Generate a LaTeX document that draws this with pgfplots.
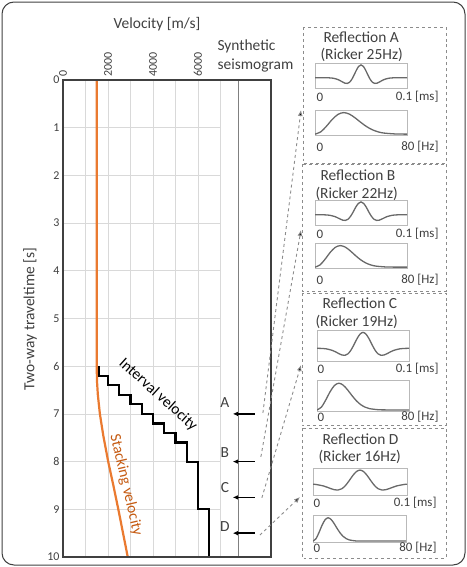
\documentclass[border=0pt]{standalone}
\usepackage{pgfplots}
\pgfplotsset{compat=1.18}
\usepackage{fontspec}
\setmainfont{Carlito}
\usetikzlibrary{arrows.meta}
\definecolor{txt}{RGB}{64,64,64}
\definecolor{orng}{RGB}{234,122,48}
\definecolor{brn}{RGB}{197,90,17}
\definecolor{gridc}{RGB}{217,217,217}
\definecolor{boxc}{RGB}{185,185,185}
\definecolor{wavec}{RGB}{105,105,105}
\definecolor{dashc}{RGB}{140,140,140}
\newcommand\fL{\fontsize{15.5}{18}\selectfont}
\newcommand\fM{\fontsize{13}{15}\selectfont}
\newcommand\fS{\fontsize{12}{14}\selectfont}
\pgfplotsset{
 wbox/.style={scale only axis, width=92bp, height=25bp, ticks=none,
   axis line style={draw=boxc, line width=0.9bp}, anchor=north west},
 wt/.style={wbox, xmin=0, xmax=0.1, ymin=-0.8, ymax=1.15},
 wf/.style={wbox, xmin=0, xmax=80, ymin=-0.04, ymax=1.12},
 wl/.style={wavec, line width=1.3bp, smooth, no markers},
}
\begin{document}
\begin{tikzpicture}
\path[use as bounding box] (0,0) rectangle (467bp,-567bp);
\draw[txt, line width=1bp, rounded corners=12bp] (2bp,-2bp) rectangle (465bp,-565bp);

\begin{axis}[at={(63bp,-557bp)}, anchor=south west, scale only axis,
  width=208bp, height=477bp,
  xmin=0, xmax=9250, ymin=0, ymax=10, y dir=reverse,
  xtick={0,2000,4000,6000}, ytick={0,1,...,10},
  major tick length=0pt,
  xticklabel pos=upper,
  /pgf/number format/assume math mode=true,
  /pgf/number format/1000 sep={},
  scaled x ticks=false,
  xticklabel style={rotate=90, anchor=west, font=\fS, text=txt},
  yticklabel style={font=\fS, text=txt},
  axis line style={draw=txt, line width=1.6bp},
  clip=false, axis on top]
\pgfplotsinvokeforeach{1000,2000,3000,4000,5000,6000,7000}{\draw[gridc, line width=0.8bp] (axis cs:#1,0) -- (axis cs:#1,10);}
\pgfplotsinvokeforeach{1,2,3,4,5,6,7,8,9}{\draw[gridc, line width=0.8bp] (axis cs:0,#1) -- (axis cs:7000,#1);}
\draw[gray, line width=1.3bp] (axis cs:7800,0) -- (axis cs:7800,10);
% interval velocity
\addplot[black, line width=2.2bp, no markers] coordinates {
 (1600,6.0)(1600,6.2)(2000,6.2)(2000,6.4)(2500,6.4)(2500,6.6)(3000,6.6)(3000,6.8)
 (3500,6.8)(3500,7.0)(4000,7.0)(4000,7.2)(4500,7.2)(4500,7.4)(5000,7.4)(5000,7.6)
 (5500,7.6)(5500,8.0)(6000,8.0)(6000,9.0)(6500,9.0)(6500,10)};
% stacking velocity
\addplot[orng, line width=2.2bp, no markers] coordinates {
 (1500,0)(1500,6.0)(1510,6.3)(1550,6.6)(1640,7.0)(1790,7.45)(2010,8.0)(2240,8.5)(2460,9.0)(2670,9.5)(2880,10)};
\node[font=\fL, rotate=-42] at (axis cs:4230,6.6) {Interval velocity};
\node[font=\fL, rotate=-77, text=brn] at (axis cs:2800,8.49) {Stacking velocity};
% seismogram arrows
\foreach \t/\l/\ly in {7.0/A/6.77, 8.0/B/7.81, 8.75/C/8.55, 9.5/D/9.36}{
  \edef\tmp{\noexpand\draw[-{Latex[length=5bp,width=4.5bp]}, black, line width=1.4bp] (axis cs:8530,\t) -- (axis cs:7550,\t);
  \noexpand\node[font=\noexpand\fL, text=txt] at (axis cs:7200,\ly) {\l};}\tmp
}
\coordinate (sA) at (axis cs:8890,6.98);
\coordinate (sB) at (axis cs:8800,7.9);
\coordinate (sC) at (axis cs:8844,8.76);
\coordinate (sD) at (axis cs:8755,9.54);
\end{axis}

% outer labels
\node[font=\fL, text=txt] at (157bp,-24bp) {Velocity [m/s]};
\node[font=\fL, text=txt, anchor=west] at (214bp,-46bp) {Synthetic};
\node[font=\fL, text=txt, anchor=west] at (214bp,-66bp) {seismogram};
\node[font=\fL, text=txt, rotate=90] at (30bp,-319bp) {Two-way traveltime [s]};

% panel frames
\draw[dashc, dashed, line width=0.8bp] (303bp,-27bp) rectangle (446bp,-163bp);
\draw[dashc, dashed, line width=0.8bp] (302bp,-164bp) rectangle (446bp,-291bp);
\draw[dashc, dashed, line width=0.8bp] (302bp,-293bp) rectangle (446bp,-425bp);
\draw[dashc, dashed, line width=0.8bp] (302bp,-428bp) rectangle (446bp,-558bp);

% dashed arrows
\draw[dashc, dashed, line width=0.9bp, -{Latex[length=6bp,width=5bp,fill=black]}] (sA) -- (301bp,-110bp);
\draw[dashc, dashed, line width=0.9bp, -{Latex[length=6bp,width=5bp,fill=black]}] (sB) -- (301bp,-230bp);
\draw[dashc, dashed, line width=0.9bp, -{Latex[length=6bp,width=5bp,fill=black]}] (sC) -- (301bp,-365bp);
\draw[dashc, dashed, line width=0.9bp, -{Latex[length=6bp,width=5bp,fill=black]}] (sD) -- (300bp,-497bp);

% panel A
\node[font=\fL, text=txt, anchor=west] at (320bp,-37bp) {Reflection A};
\node[font=\fL, text=txt, anchor=west] at (317bp,-55bp) {(Ricker 25Hz)};
\begin{axis}[wt, at={(315bp,-63bp)}]
\addplot[wl] coordinates {(0,0)(0.01,-0.001)(0.015,-0.007)(0.02,-0.039)(0.025,-0.142)(0.0275,-0.231)(0.03,-0.334)(0.0325,-0.420)(0.035,-0.443)(0.0375,-0.354)(0.04,-0.126)(0.0425,0.216)(0.045,0.593)(0.0475,0.888)(0.05,1)(0.0525,0.888)(0.055,0.593)(0.0575,0.216)(0.06,-0.126)(0.0625,-0.354)(0.065,-0.443)(0.0675,-0.420)(0.07,-0.334)(0.0725,-0.231)(0.075,-0.142)(0.08,-0.039)(0.085,-0.007)(0.09,-0.001)(0.1,0)};
\end{axis}
\begin{axis}[wf, at={(315bp,-110bp)}]
\addplot[wl] coordinates {(0,0)(5,0.1045)(10,0.3706)(15,0.6827)(20,0.9173)(25,1)(30,0.9274)(35,0.7505)(40,0.5379)(45,0.3450)(50,0.1991)(55,0.1040)(60,0.0493)(70,0.0084)(80,0.001)};
\end{axis}
\node[font=\fM, text=txt, anchor=west] at (313bp,-97bp) {0};
\node[font=\fM, text=txt, anchor=east] at (442bp,-97bp) {0.1 [ms]};
\node[font=\fM, text=txt, anchor=west] at (313bp,-147bp) {0};
\node[font=\fM, text=txt, anchor=east] at (442bp,-147bp) {80 [Hz]};

% panel B
\node[font=\fL, text=txt, anchor=west] at (317bp,-175bp) {Reflection B};
\node[font=\fL, text=txt, anchor=west] at (312bp,-194bp) {(Ricker 22Hz)};
\begin{axis}[wt, at={(315bp,-200bp)}]
\addplot[wl] coordinates {(0,0)(0.0045,-0.001)(0.0102,-0.007)(0.0159,-0.039)(0.0216,-0.142)(0.0244,-0.231)(0.0273,-0.334)(0.0301,-0.420)(0.033,-0.443)(0.0358,-0.354)(0.0386,-0.126)(0.0415,0.216)(0.0443,0.593)(0.0472,0.888)(0.05,1)(0.0528,0.888)(0.0557,0.593)(0.0585,0.216)(0.0614,-0.126)(0.0642,-0.354)(0.067,-0.443)(0.0699,-0.420)(0.0727,-0.334)(0.0756,-0.231)(0.0784,-0.142)(0.0841,-0.039)(0.0898,-0.007)(0.0955,-0.001)(0.1,0)};
\end{axis}
\begin{axis}[wf, at={(315bp,-243bp)}]
\addplot[wl] coordinates {(0,0)(4.4,0.1045)(8.8,0.3706)(13.2,0.6827)(17.6,0.9173)(22,1)(26.4,0.9274)(30.8,0.7505)(35.2,0.5379)(39.6,0.3450)(44,0.1991)(48.4,0.1040)(52.8,0.0493)(61.6,0.0084)(70.4,0.001)(80,0)};
\end{axis}
\node[font=\fM, text=txt, anchor=west] at (313bp,-234bp) {0};
\node[font=\fM, text=txt, anchor=east] at (442bp,-234bp) {0.1 [ms]};
\node[font=\fM, text=txt, anchor=west] at (313bp,-280bp) {0};
\node[font=\fM, text=txt, anchor=east] at (442bp,-280bp) {80 [Hz]};

% panel C
\node[font=\fL, text=txt, anchor=west] at (319bp,-303bp) {Reflection C};
\node[font=\fL, text=txt, anchor=west] at (312bp,-322bp) {(Ricker 19Hz)};
\begin{axis}[wt, at={(317bp,-330bp)}, height=31bp]
\addplot[wl] coordinates {(0,-0.002)(0.004,-0.007)(0.0105,-0.039)(0.0171,-0.142)(0.0204,-0.231)(0.0237,-0.334)(0.027,-0.420)(0.0303,-0.443)(0.0336,-0.354)(0.0368,-0.126)(0.0401,0.216)(0.0434,0.593)(0.0467,0.888)(0.05,1)(0.0533,0.888)(0.0566,0.593)(0.0599,0.216)(0.0632,-0.126)(0.0664,-0.354)(0.0697,-0.443)(0.073,-0.420)(0.0763,-0.334)(0.0796,-0.231)(0.0829,-0.142)(0.0895,-0.039)(0.096,-0.007)(0.1,-0.002)};
\end{axis}
\begin{axis}[wf, at={(317bp,-380bp)}, height=31bp]
\addplot[wl] coordinates {(0,0)(3.8,0.1045)(7.6,0.3706)(11.4,0.6827)(15.2,0.9173)(19,1)(22.8,0.9274)(26.6,0.7505)(30.4,0.5379)(34.2,0.3450)(38,0.1991)(41.8,0.1040)(45.6,0.0493)(53.2,0.0084)(60.8,0.001)(80,0)};
\end{axis}
\node[font=\fM, text=txt, anchor=west] at (314bp,-369bp) {0};
\node[font=\fM, text=txt, anchor=east] at (442bp,-369bp) {0.1 [ms]};
\node[font=\fM, text=txt, anchor=west] at (314bp,-417bp) {0};
\node[font=\fM, text=txt, anchor=east] at (442bp,-417bp) {80 [Hz]};

% panel D
\node[font=\fL, text=txt, anchor=west] at (319bp,-439bp) {Reflection D};
\node[font=\fL, text=txt, anchor=west] at (315bp,-457bp) {(Ricker 16Hz)};
\begin{axis}[wt, at={(313bp,-468bp)}, width=94bp, height=27bp]
\addplot[wl] coordinates {(0,-0.021)(0.0031,-0.039)(0.0109,-0.142)(0.0148,-0.231)(0.0188,-0.334)(0.0227,-0.420)(0.0266,-0.443)(0.0305,-0.354)(0.0344,-0.126)(0.0383,0.216)(0.0422,0.593)(0.0461,0.888)(0.05,1)(0.0539,0.888)(0.0578,0.593)(0.0617,0.216)(0.0656,-0.126)(0.0695,-0.354)(0.0734,-0.443)(0.0773,-0.420)(0.0813,-0.334)(0.0852,-0.231)(0.0891,-0.142)(0.0969,-0.039)(0.1,-0.021)};
\end{axis}
\begin{axis}[wf, at={(313bp,-515bp)}, width=93bp, height=27bp]
\addplot[wl] coordinates {(0,0)(2.6,0.1045)(5.2,0.3706)(7.8,0.6827)(10.4,0.9173)(13,1)(15.6,0.9274)(18.2,0.7505)(20.8,0.5379)(23.4,0.3450)(26,0.1991)(28.6,0.1040)(31.2,0.0493)(36.4,0.0084)(41.6,0.001)(80,0)};
\end{axis}
\node[font=\fM, text=txt, anchor=west] at (310bp,-503bp) {0};
\node[font=\fM, text=txt, anchor=east] at (440bp,-503bp) {0.1 [ms]};
\node[font=\fM, text=txt, anchor=west] at (310bp,-548bp) {0};
\node[font=\fM, text=txt, anchor=east] at (440bp,-548bp) {80 [Hz]};
\end{tikzpicture}
\end{document}
